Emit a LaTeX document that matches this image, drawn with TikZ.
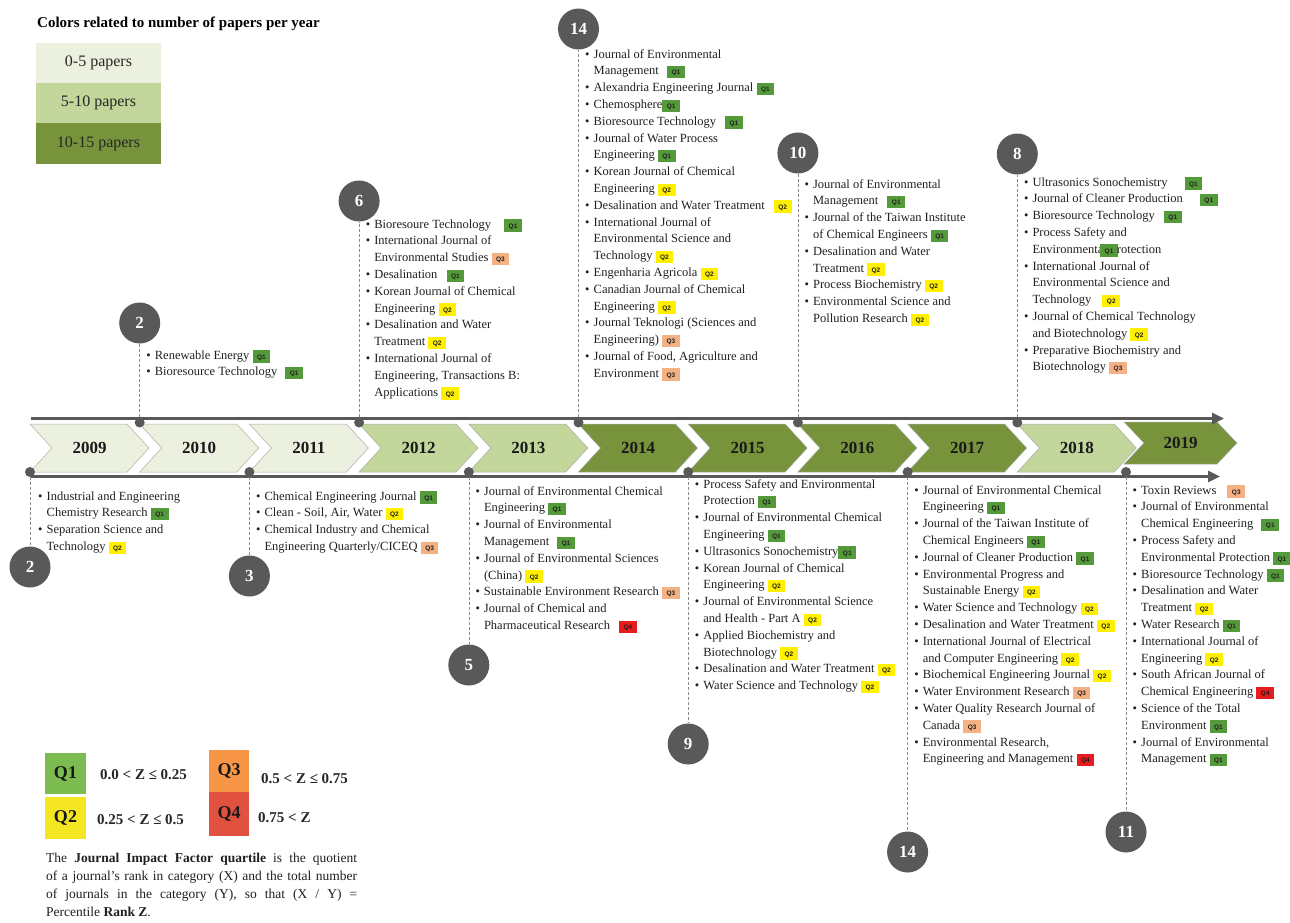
\documentclass[tikz,border=0pt]{standalone}
\usepackage{fontspec}
\setmainfont{Liberation Serif}
\newfontfamily\badgefont{Liberation Sans}
\usetikzlibrary{arrows.meta,calc}
\definecolor{cgray}{HTML}{595959}
\definecolor{cdash}{HTML}{8C8C8C}
\definecolor{clight}{HTML}{EBF1DE}
\definecolor{cmed}{HTML}{C3D69B}
\definecolor{cdark}{HTML}{77933C}
\definecolor{qbA}{HTML}{559A3A}
\definecolor{qbB}{HTML}{FFF000}
\definecolor{qbC}{HTML}{F4B183}
\definecolor{qbD}{HTML}{E81C1C}
\definecolor{qlA}{HTML}{7CBB4F}
\definecolor{qlB}{HTML}{F4E623}
\definecolor{qlC}{HTML}{F79646}
\definecolor{qlD}{HTML}{E0523F}
\newcommand{\qbadge}[2]{{\setlength{\fboxsep}{0pt}\colorbox{#1}{\rule[-3.5pt]{0pt}{12.5pt}\hspace{4.5pt}{\badgefont\bfseries\fontsize{6.5}{6.5}\selectfont Q#2}\hspace{4.5pt}}}}
\newcommand{\QA}{\qbadge{qbA}{1}}
\newcommand{\QB}{\qbadge{qbB}{2}}
\newcommand{\QC}{\qbadge{qbC}{3}}
\newcommand{\QD}{\qbadge{qbD}{4}}
\newcommand{\bu}{\strut\makebox[8.5pt][l]{\textbullet}}
\newcommand{\ii}{\hspace*{8.5pt}}
% #1 name, #2 xL, #3 ytop, #4 ybot, #5 fill, #6 W, #7 year, #8 tip depth
\newcommand{\chev}[8]{%
  \draw[chevb, fill=#5] (#2,#3) -- ({#2+#6},#3) -- ({#2+#6+#8},{(#3+#4)/2}) -- ({#2+#6},#4) -- (#2,#4) -- ({#2+#8},{(#3+#4)/2}) -- cycle;
  \node[yr] (#1) at ({#2+#8/2+#6/2},{(#3+#4)/2}) {#7};}
\begin{document}
\begin{tikzpicture}[x=1pt,y=-1pt,
  chevb/.style={draw=gray!65, line width=0.5pt},
  yr/.style={font=\bfseries\fontsize{17}{17}\selectfont, text=black!90, inner sep=0},
  tline/.style={draw=cgray, line width=2.8pt, -{Triangle[length=12pt,width=11pt]}},
  dotn/.style={circle, fill=cgray, minimum size=10pt, inner sep=0},
  circ/.style={circle, fill=cgray, text=white, font=\bfseries\fontsize{17}{17}\selectfont, minimum size=41pt, inner sep=0},
  conn/.style={draw=cdash, line width=0.6pt, dash pattern=on 3pt off 2pt},
  lst/.style={anchor=north west, inner sep=0, align=left, font=\fontsize{12.5}{16.8}\selectfont, text=black!88},
  lgb/.style={minimum width=125pt, minimum height=40pt, inner sep=0, font=\fontsize{16}{16}\selectfont, text=black!85},
  qb/.style={inner sep=0, font=\bfseries\fontsize{18}{18}\selectfont, text=black!90},
  rng/.style={inner sep=0, font=\bfseries\fontsize{15}{15}\selectfont, text=black!85}]
\useasboundingbox (0,0) rectangle (1290,922);

% colour legend
\node[anchor=west, inner sep=0, font=\bfseries\fontsize{15}{15}\selectfont] (ttl) at (37,24) {Colors related to number of papers per year};
\node[lgb, fill=clight] (lg1) at (98.5,63) {0-5 papers};
\node[lgb, fill=cmed] (lg2) at (98.5,103) {5-10 papers};
\node[lgb, fill=cdark, minimum height=41pt] (lg3) at (98.5,143.5) {10-15 papers};

% chevrons
\chev{y2009}{30}{424}{472}{clight}{97}{2009}{22}
\chev{y2010}{139.7}{424}{472}{clight}{97}{2010}{22}
\chev{y2011}{249.4}{424}{472}{clight}{97}{2011}{22}
\chev{y2012}{359.1}{424}{472}{cmed}{97}{2012}{22}
\chev{y2013}{468.8}{424}{472}{cmed}{97}{2013}{22}
\chev{y2014}{578.5}{424}{472}{cdark}{97}{2014}{22}
\chev{y2015}{688.2}{424}{472}{cdark}{97}{2015}{22}
\chev{y2016}{797.9}{424}{472}{cdark}{97}{2016}{22}
\chev{y2017}{907.6}{424}{472}{cdark}{97}{2017}{22}
\chev{y2018}{1017.3}{424}{472}{cmed}{97}{2018}{22}
\chev{y2019}{1124}{422}{464}{cdark}{93}{2019}{20}

% timeline lines
\coordinate (tS) at (31,418.5);
\coordinate (tE) at (1224,418.5);
\coordinate (bS) at (31,476.5);
\coordinate (bE) at (1220,476.5);
\draw[tline] (tS) -- (tE);
\draw[tline] (bS) -- (bE);

% dots
\node[dotn] (p2010) at (139.7,422.5) {};
\node[dotn] (p2012) at (359.1,422.5) {};
\node[dotn] (p2014) at (578.5,422.5) {};
\node[dotn] (p2016) at (797.9,422.5) {};
\node[dotn] (p2018) at (1017.3,422.5) {};
\node[dotn] (p2009) at (30,472) {};
\node[dotn] (p2011) at (249.4,472) {};
\node[dotn] (p2013) at (468.8,472) {};
\node[dotn] (p2015) at (688.2,472) {};
\node[dotn] (p2017) at (907.6,472) {};
\node[dotn] (p2019) at (1126,472) {};

% count circles
\node[circ] (c2010) at (139.7,323) {2};
\node[circ] (c2012) at (359.1,201) {6};
\node[circ] (c2014) at (578.5,29) {14};
\node[circ] (c2016) at (797.9,153) {10};
\node[circ] (c2018) at (1017.3,154) {8};
\node[circ] (c2009) at (30,567) {2};
\node[circ] (c2011) at (249.4,576) {3};
\node[circ] (c2013) at (468.8,665) {5};
\node[circ] (c2015) at (688.2,744) {9};
\node[circ] (c2017) at (907.6,852) {14};
\node[circ] (c2019) at (1126,832) {11};

% dashed connectors
\foreach \y in {2009,2010,2011,2012,2013,2014,2015,2016,2017,2018,2019}
  \draw[conn] (p\y) -- (c\y);

% lists (top)
\node[lst] (t2010) at (146.2,347.2) {\bu Renewable Energy \QA\\
\bu Bioresource Technology\hspace{5pt} \QA};

\node[lst] (t2012) at (365.6,216.2) {\bu Bioresoure Technology\hspace{10pt} \QA\\
\bu International Journal of\\
\ii Environmental Studies \QC\\
\bu Desalination\hspace{6pt} \QA\\
\bu Korean Journal of Chemical\\
\ii Engineering \QB\\
\bu Desalination and Water\\
\ii Treatment \QB\\
\bu International Journal of\\
\ii Engineering, Transactions B:\\
\ii Applications \QB};

\node[lst] (t2014) at (585,46.2) {\bu Journal of Environmental\\
\ii Management\hspace{5pt} \QA\\
\bu Alexandria Engineering Journal \QA\\
\bu Chemosphere\QA\\
\bu Bioresource Technology\hspace{6pt} \QA\\
\bu Journal of Water Process\\
\ii Engineering \QA\\
\bu Korean Journal of Chemical\\
\ii Engineering \QB\\
\bu Desalination and Water Treatment\hspace{6pt} \QB\\
\bu International Journal of\\
\ii Environmental Science and\\
\ii Technology \QB\\
\bu Engenharia Agricola \QB\\
\bu Canadian Journal of Chemical\\
\ii Engineering \QB\\
\bu Journal Teknologi (Sciences and\\
\ii Engineering) \QC\\
\bu Journal of Food, Agriculture and\\
\ii Environment \QC};

\node[lst] (t2016) at (804.4,176.2) {\bu Journal of Environmental\\
\ii Management\hspace{6pt} \QA\\
\bu Journal of the Taiwan Institute\\
\ii of Chemical Engineers \QA\\
\bu Desalination and Water\\
\ii Treatment \QB\\
\bu Process Biochemistry \QB\\
\bu Environmental Science and\\
\ii Pollution Research \QB};

\node[lst] (t2018) at (1023.8,174.2) {\bu Ultrasonics Sonochemistry\hspace{14pt} \QA\\
\bu Journal of Cleaner Production\hspace{14pt} \QA\\
\bu Bioresource Technology\hspace{6pt} \QA\\
\bu Process Safety and\\
\ii Environmental P\llap{\QA\kern-1pt}rotection\\
\bu International Journal of\\
\ii Environmental Science and\\
\ii Technology\hspace{8pt} \QB\\
\bu Journal of Chemical Technology\\
\ii and Biotechnology \QB\\
\bu Preparative Biochemistry and\\
\ii Biotechnology \QC};

% lists (bottom)
\node[lst] (t2009) at (38,488.2) {\bu Industrial and Engineering\\
\ii Chemistry Research \QA\\
\bu Separation Science and\\
\ii Technology \QB};

\node[lst] (t2011) at (255.9,488.2) {\bu Chemical Engineering Journal \QA\\
\bu Clean - Soil, Air, Water \QB\\
\bu Chemical Industry and Chemical\\
\ii Engineering Quarterly/CICEQ \QC};

\node[lst] (t2013) at (475.3,483.2) {\bu Journal of Environmental Chemical\\
\ii Engineering \QA\\
\bu Journal of Environmental\\
\ii Management\hspace{5pt} \QA\\
\bu Journal of Environmental Sciences\\
\ii (China) \QB\\
\bu Sustainable Environment Research \QC\\
\bu Journal of Chemical and\\
\ii Pharmaceutical Research\hspace{6pt} \QD};

\node[lst] (t2015) at (694.7,476.2) {\bu Process Safety and Environmental\\
\ii Protection \QA\\
\bu Journal of Environmental Chemical\\
\ii Engineering \QA\\
\bu Ultrasonics Sonochemistry\QA\\
\bu Korean Journal of Chemical\\
\ii Engineering \QB\\
\bu Journal of Environmental Science\\
\ii and Health - Part A \QB\\
\bu Applied Biochemistry and\\
\ii Biotechnology \QB\\
\bu Desalination and Water Treatment \QB\\
\bu Water Science and Technology \QB};

\node[lst] (t2017) at (914.1,482.2) {\bu Journal of Environmental Chemical\\
\ii Engineering \QA\\
\bu Journal of the Taiwan Institute of\\
\ii Chemical Engineers \QA\\
\bu Journal of Cleaner Production \QA\\
\bu Environmental Progress and\\
\ii Sustainable Energy \QB\\
\bu Water Science and Technology \QB\\
\bu Desalination and Water Treatment \QB\\
\bu International Journal of Electrical\\
\ii and Computer Engineering \QB\\
\bu Biochemical Engineering Journal \QB\\
\bu Water Environment Research \QC\\
\bu Water Quality Research Journal of\\
\ii Canada \QC\\
\bu Environmental Research,\\
\ii Engineering and Management \QD};

\node[lst] (t2019) at (1132.5,482.2) {\bu Toxin Reviews\hspace{8pt} \QC\\
\bu Journal of Environmental\\
\ii Chemical Engineering\hspace{5pt} \QA\\
\bu Process Safety and\\
\ii Environmental Protection \QA\\
\bu Bioresource Technology \QA\\
\bu Desalination and Water\\
\ii Treatment \QB\\
\bu Water Research \QA\\
\bu International Journal of\\
\ii Engineering \QB\\
\bu South African Journal of\\
\ii Chemical Engineering \QD\\
\bu Science of the Total\\
\ii Environment \QA\\
\bu Journal of Environmental\\
\ii Management \QA};

% quartile legend
\node[qb, fill=qlA, minimum width=41pt, minimum height=41pt] (lq1) at (65.5,773.5) {Q1};
\node[qb, fill=qlB, minimum width=41pt, minimum height=42pt] (lq2) at (65.5,818) {Q2};
\node[qb, fill=qlC, minimum width=40pt, minimum height=42pt] (lq3) at (229,771) {Q3};
\node[qb, fill=qlD, minimum width=40pt, minimum height=44pt] (lq4) at (229,814) {Q4};
\node[rng, anchor=west] (r1) at (100,775) {0.0 < Z ≤ 0.25};
\node[rng, anchor=west] (r2) at (97,820) {0.25 < Z ≤ 0.5};
\node[rng, anchor=west] (r3) at (261,779) {0.5 < Z ≤ 0.75};
\node[rng, anchor=west] (r4) at (258,818) {0.75 < Z};

\node[anchor=north west, inner sep=0, text width=311pt, align=justify, font=\fontsize{13.5}{18}\selectfont, text=black!88] (expl) at (46,850) {\strut The \textbf{Journal Impact Factor quartile} is the quotient\linebreak of a journal's rank in category (X) and the total number\linebreak of journals in the category (Y), so that (X / Y) =\linebreak Percentile \textbf{Rank Z}.};
\end{tikzpicture}
\end{document}
